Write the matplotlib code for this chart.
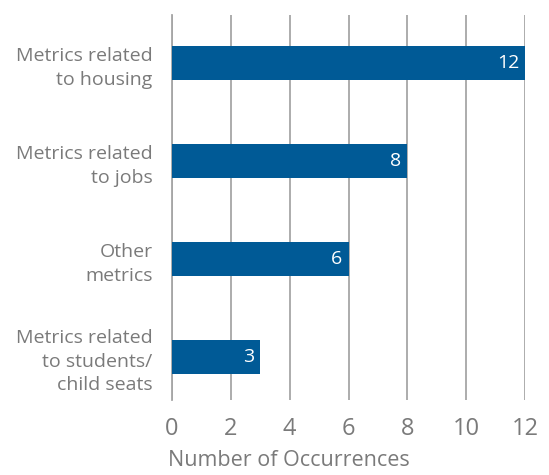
import matplotlib
matplotlib.use("Agg")
import matplotlib.pyplot as plt

categories = ["Metrics related\nto housing", "Metrics related\nto jobs", "Other\nmetrics",
              "Metrics related\nto students/\nchild seats"]
values = [12, 8, 6, 3]
xticks = [0, 2, 4, 6, 8, 10, 12]

plt.rcParams['font.family'] = ['Open Sans', 'DejaVu Sans']

fig = plt.figure(figsize=(5.49, 4.75), dpi=100)
ax = fig.add_axes([172/549, 1-400/475, (525-172)/549, (400-15)/475])

ypos = list(range(len(categories)))
bar_color = "#005a96"
ax.barh(ypos, values, height=0.35, color=bar_color, zorder=3)
for y, v in zip(ypos, values):
    ax.text(v - 0.2, y, str(v), ha="right", va="center", color="white", fontsize=14, zorder=4)

ax.set_xlim(0, 12)
ax.set_ylim(3.44, -0.49)
ax.set_xticks(xticks)
ax.set_xticklabels([str(t) for t in xticks])
ax.set_yticks(ypos)
ax.set_yticklabels(categories, ha="right", linespacing=1.4)
ax.grid(axis="x", color="#a6a6a6", linewidth=1.3, zorder=0)
for s in ["top", "right", "bottom"]:
    ax.spines[s].set_visible(False)
ax.spines["left"].set_color("#a6a6a6")
ax.spines["left"].set_linewidth(1.3)
ax.tick_params(axis="both", length=0, colors="#7a7a7a")
ax.tick_params(axis="x", labelsize=17, pad=12)
ax.tick_params(axis="y", labelsize=14, pad=14)
ax.set_xlabel("Number of Occurrences", fontsize=15.5, color="#7a7a7a", ha="left")
ax.xaxis.set_label_coords(-0.012, -0.13)

fig.savefig("out.png", dpi=100)
